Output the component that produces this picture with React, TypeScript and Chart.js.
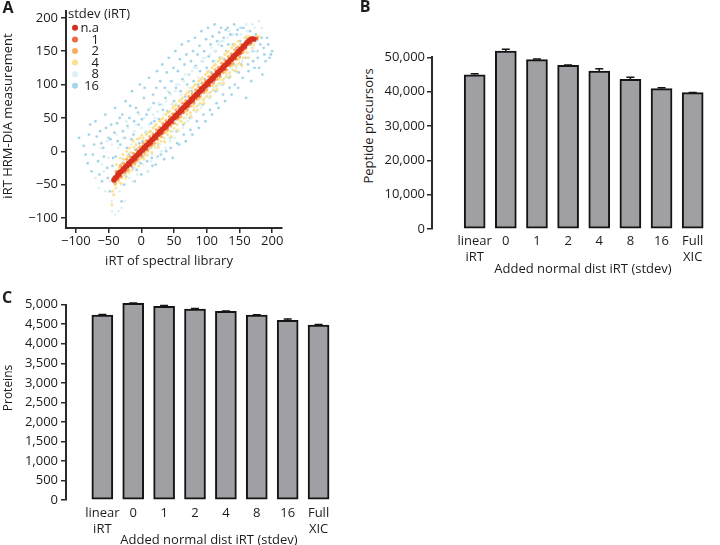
import React, { useEffect, useRef } from "react";
import { Chart, registerables } from "chart.js";

Chart.register(...registerables);

const FONT = "'Open Sans', Lato, sans-serif";
const TEXT = "#1c1c1c";
const AXIS = "#2a2a2a";
Chart.defaults.font.family = FONT;

// ---------- Panel A data ----------
const stdevLabels = ["n.a", "1", "2", "4", "8", "16"];
const stdevColors = ["#d7301f", "#f26841", "#fbae63", "#fde292", "#def1f6", "#a7d5e8"];
const stdevRadii = [2.6, 2.0, 1.6, 1.5, 1.4, 1.4];
const axisTicksA = [-100, -50, 0, 50, 100, 150, 200];

const ptsNA = [[-42,-43],[-40,-40],[-38,-39],[-36,-35],[-34,-34],[-32,-31],[-30,-30],[-28,-27],[-26,-26],[-24,-23],[-22,-22],[-20,-19],[-18,-18],[-16,-15],[-14,-14],[-12,-11],[-10,-10],[-8,-7],[-6,-6],[-4,-3],[-2,-2],[0,1],[2,2],[4,5],[6,6],[8,9],[10,10],[12,13],[14,14],[16,17],[18,18],[20,21],[22,22],[24,25],[26,26],[28,29],[30,30],[32,33],[34,34],[36,37],[38,38],[40,41],[42,42],[44,45],[46,46],[48,49],[50,50],[52,53],[54,54],[56,57],[58,58],[60,61],[62,62],[64,65],[66,66],[68,69],[70,70],[72,73],[74,74],[76,77],[78,78],[80,81],[82,82],[84,85],[86,86],[88,89],[90,90],[92,93],[94,94],[96,97],[98,98],[100,101],[102,102],[104,105],[106,106],[108,109],[110,110],[112,113],[114,114],[116,117],[118,118],[120,121],[122,122],[124,125],[126,126],[128,129],[130,130],[132,133],[134,134],[136,137],[138,138],[140,141],[142,142],[144,145],[146,146],[148,149],[150,150],[152,153],[154,154],[156,157],[158,158],[160,161],[162,163],[164,165],[166,167],[168,168],[172,168]];

const pts1 = [[-40,-44],[-36,-32],[-33,-37],[-28,-25],[-25,-29],[-20,-17],[-17,-21],[-12,-9],[-9,-13],[-4,-1],[-1,-5],[4,7],[7,3],[12,15],[15,11],[20,23],[23,19],[28,31],[31,27],[36,39],[39,35],[44,47],[47,43],[52,55],[55,51],[60,63],[63,59],[68,71],[71,67],[76,79],[79,75],[84,87],[87,83],[92,95],[95,91],[100,103],[103,99],[108,111],[111,107],[116,119],[119,115],[124,127],[127,123],[132,135],[135,131],[140,143],[143,139],[148,151],[151,147],[156,159],[159,155],[164,166],[167,163],[170,170],[176,169]];

const pts2 = [[-40,-48],[-38,-30],[-35,-42],[-32,-22],[-30,-38],[-27,-18],[-25,-32],[-22,-12],[-20,-28],[-17,-8],[-15,-22],[-12,-3],[-10,-18],[-7,2],[-5,-12],[-2,6],[0,-8],[3,12],[5,-2],[8,16],[10,2],[13,22],[15,8],[18,26],[20,12],[23,32],[25,18],[28,36],[30,22],[33,42],[35,28],[38,46],[40,32],[43,52],[45,38],[48,56],[50,42],[53,62],[55,48],[58,66],[60,52],[63,72],[65,58],[68,76],[70,62],[73,82],[75,68],[78,86],[80,72],[83,92],[85,78],[88,96],[90,82],[93,102],[95,88],[98,106],[100,92],[103,112],[105,98],[108,116],[110,102],[113,122],[115,108],[118,126],[120,112],[123,132],[125,118],[128,136],[130,122],[133,142],[135,128],[138,146],[140,132],[143,152],[145,138],[148,156],[150,142],[153,160],[155,148],[160,165],[165,160],[170,169],[175,169]];

const pts4 = [[-45,-80],[-42,-65],[-40,-50],[-38,-20],[-35,-45],[-32,-10],[-30,-40],[-28,-5],[-25,-35],[-22,0],[-20,-25],[-18,5],[-15,-20],[-12,15],[-10,-20],[-8,10],[-5,-15],[-2,20],[0,-10],[3,20],[5,-5],[8,25],[10,0],[13,30],[15,5],[18,35],[20,8],[23,40],[25,12],[28,45],[30,15],[33,50],[35,20],[38,55],[40,25],[43,60],[45,30],[48,65],[50,35],[53,70],[55,40],[58,75],[60,45],[63,80],[65,50],[68,85],[70,55],[73,90],[75,58],[78,95],[80,62],[83,100],[85,68],[88,105],[90,72],[93,110],[95,78],[98,115],[100,82],[103,120],[105,88],[108,125],[110,92],[113,130],[115,98],[118,135],[120,102],[123,140],[125,108],[128,145],[130,112],[133,150],[135,118],[138,155],[140,122],[143,160],[145,128],[148,165],[150,132],[155,140],[158,170],[162,148],[165,172],[170,155],[175,170],[180,172],
  [-44,-60],[-41,-38],[-39,-55],[-37,-30],[-34,-25],[-31,-48],[-29,-18],[-26,-12],[-24,-40],[-21,-8],[-19,-32],[-16,-2],[-14,-28],[-11,6],[-9,-4],[-6,18],[-4,-22],[-1,8],[1,24],[4,-12],[6,14],[9,-6],[11,28],[14,20],[16,-2],[19,14],[21,38],[24,28],[26,6],[29,22],[31,48],[34,40],[36,14],[39,30],[41,58],[44,48],[46,22],[49,42],[51,68],[54,58],[56,32],[59,50],[61,78],[64,70],[66,42],[69,60],[71,88],[74,80],[76,52],[79,68],[81,98],[84,90],[86,62],[89,78],[91,108],[94,100],[96,72],[99,88],[101,118],[104,110],[106,82],[109,98],[111,128],[114,120],[116,92],[119,108],[121,138],[124,130],[126,102],[129,118],[131,148],[134,140],[136,112],[139,128],[141,158],[144,150],[146,120],[149,138],[152,160],[154,128],[157,150],[160,172],[163,140],[167,165],[172,160],[177,172]];

const pts8 = [[-70,-40],[-60,-20],[-55,-60],[-50,-10],[-45,-75],[-45,10],[-40,-30],[-35,5],[-30,-50],[-28,20],[-25,-20],[-20,35],[-18,-40],[-15,10],[-10,-25],[-8,40],[-5,5],[0,35],[3,-20],[5,50],[10,-5],[12,40],[15,-15],[18,55],[22,5],[25,60],[28,10],[32,70],[35,15],[38,75],[42,20],[45,85],[48,30],[52,90],[55,40],[58,100],[62,45],[65,105],[68,50],[72,115],[75,55],[78,120],[82,65],[85,125],[88,70],[92,135],[95,75],[98,140],[102,85],[105,145],[108,90],[112,150],[115,95],[118,160],[122,100],[125,165],[128,110],[132,170],[135,115],[140,175],[145,125],[150,185],[155,135],[160,190],[165,140],[170,190],[175,150],[180,195],[-40,-95],[-30,-85],
  [-65,-55],[-62,5],[-57,-30],[-52,15],[-48,-45],[-42,-65],[-38,25],[-33,-60],[-27,-35],[-23,45],[-19,-15],[-13,-45],[-11,30],[-6,-35],[-3,55],[2,-5],[7,30],[9,-30],[14,65],[17,-5],[21,50],[24,-10],[27,72],[31,0],[34,55],[37,5],[41,90],[44,15],[47,70],[51,20],[54,100],[57,30],[61,85],[64,35],[67,115],[71,45],[74,95],[77,50],[81,125],[84,60],[87,110],[91,65],[94,140],[97,80],[101,120],[104,80],[107,155],[111,95],[114,135],[117,100],[121,165],[124,105],[127,145],[131,115],[134,180],[137,125],[142,160],[147,130],[152,175],[157,140],[162,180],[168,150],[173,185],[178,165],[184,185],[-35,-90],[-25,-75],[-45,-90]];

const pts16 = [[-95,20],[-85,-5],[-80,25],[-76,-30],[-72,10],[-70,45],[-66,-15],[-63,30],[-60,-45],[-58,5],[-55,55],[-52,-25],[-50,20],[-48,-60],[-46,40],[-43,-10],[-40,65],[-38,-40],[-36,15],[-33,50],[-31,-20],[-30,-75],[-28,30],[-26,-50],[-24,75],[-22,5],[-20,-30],[-18,50],[-16,-10],[-14,90],[-12,25],[-10,-45],[-8,65],[-6,-15],[-4,40],[-2,100],[0,-35],[2,15],[4,80],[6,-5],[8,55],[10,-30],[12,110],[14,30],[16,-10],[18,85],[20,45],[22,-20],[24,120],[26,10],[28,70],[30,-5],[32,130],[34,35],[36,95],[38,0],[40,60],[42,140],[44,20],[46,105],[48,-10],[50,75],[52,150],[54,30],[56,120],[58,10],[60,90],[62,160],[64,40],[66,130],[68,15],[70,100],[72,165],[74,50],[76,135],[78,25],[80,105],[82,170],[84,60],[86,145],[88,35],[90,120],[92,180],[94,70],[96,150],[98,45],[100,125],[102,185],[104,80],[106,160],[108,55],[110,135],[112,190],[114,90],[116,165],[118,65],[120,140],[122,185],[124,100],[126,170],[128,75],[130,150],[132,185],[134,110],[136,175],[138,85],[140,160],[142,190],[144,120],[146,175],[148,95],[150,140],[152,185],[155,110],[158,160],[160,80],[163,130],[166,180],[168,105],[170,150],[173,125],[175,175],[178,140],[182,160],[185,115],[188,145],[192,170],[196,140],[200,150],
  [-88,8],[-82,-18],[-78,40],[-74,-5],[-68,22],[-64,-35],[-61,12],[-57,-8],[-54,35],[-51,-40],[-47,18],[-44,-22],[-41,28],[-39,-8],[-37,42],[-34,-30],[-32,10],[-29,55],[-27,-12],[-25,20],[-23,-38],[-21,38],[-19,-5],[-17,68],[-15,18],[-13,-25],[-11,45],[-9,2],[-7,-28],[-5,58],[-3,12],[-1,-18],[1,48],[3,-8],[5,95],[7,28],[9,-15],[11,62],[13,5],[15,42],[17,-22],[19,72],[21,18],[23,95],[25,-8],[27,48],[29,105],[31,22],[33,62],[35,-12],[37,80],[39,118],[41,38],[43,88],[45,5],[47,70],[49,125],[51,42],[53,95],[55,12],[57,68],[59,138],[61,55],[63,108],[65,25],[67,82],[69,145],[71,62],[73,115],[75,32],[77,90],[79,150],[81,72],[83,128],[85,45],[87,100],[89,158],[91,85],[93,135],[95,55],[97,108],[99,168],[101,95],[103,142],[105,62],[107,118],[109,172],[111,105],[113,150],[115,72],[117,125],[119,178],[121,112],[123,158],[125,85],[127,138],[129,182],[131,122],[133,160],[135,95],[137,145],[139,175],[141,130],[143,100],[145,155],[147,182],[149,118],[151,165],[153,130],[156,185],[159,140],[161,170],[164,120],[167,160],[171,135],[174,165],[177,150],[180,125],[184,170],[187,155],[190,135],[194,160],[198,145]];

const stdevPoints = [ptsNA, pts1, pts2, pts4, pts8, pts16];

// ---------- Panels B / C data ----------
const categories: (string | string[])[] = [["linear", "iRT"], "0", "1", "2", "4", "8", "16", ["Full", "XIC"]];
const precursors = [44930, 51830, 49300, 47670, 46010, 43590, 40860, 39690];
const precursorsErr = [250, 500, 200, 60, 650, 580, 250, 40];
const precursorTicks = [0, 10000, 20000, 30000, 40000, 50000];
const proteins = [4736, 5036, 4959, 4890, 4831, 4736, 4600, 4480];
const proteinsErr = [12, 8, 20, 10, 6, 6, 35, 15];
const proteinTicks = [0, 500, 1000, 1500, 2000, 2500, 3000, 3500, 4000, 4500, 5000];

const BAR_FILL = "#a0a0a4";
const BAR_EDGE = "#141414";

const fmt = (v: number) => v.toLocaleString("en-US");
const signed = (v: number) => (v < 0 ? "\u2212" + Math.abs(v) : String(v));

function axisStyle(tickLength: number) {
  return {
    grid: { display: true, drawOnChartArea: false, drawTicks: true, tickLength, color: AXIS, lineWidth: 1.5 },
    border: { display: true, color: AXIS, width: 2 },
  };
}

const legendPluginA = {
  id: "legendA",
  afterDraw(chart: any) {
    const { ctx, chartArea } = chart;
    ctx.save();
    ctx.font = `13px ${FONT}`;
    ctx.textBaseline = "middle";
    ctx.fillStyle = TEXT;
    ctx.textAlign = "left";
    ctx.fillText("stdev (iRT)", chartArea.left + 2, chartArea.top + 3);
    chart.data.datasets.forEach((ds: any, i: number) => {
      const y = chartArea.top + 17 + i * 11.6;
      ctx.beginPath();
      ctx.arc(chartArea.left + 9, y, 3, 0, Math.PI * 2);
      ctx.fillStyle = ds.backgroundColor;
      ctx.fill();
      ctx.fillStyle = TEXT;
      ctx.textAlign = "right";
      ctx.fillText(ds.label, chartArea.left + 33, y + 0.5);
    });
    ctx.restore();
  },
};

function errorBarPlugin(errs: number[]) {
  return {
    id: "errorBars",
    afterDatasetsDraw(chart: any) {
      const { ctx } = chart;
      const ys = chart.scales.y;
      const meta = chart.getDatasetMeta(0);
      const data = chart.data.datasets[0].data;
      ctx.save();
      ctx.strokeStyle = BAR_EDGE;
      ctx.lineWidth = 1.5;
      meta.data.forEach((bar: any, i: number) => {
        const v = data[i].y;
        const y0 = ys.getPixelForValue(v);
        const y1 = ys.getPixelForValue(v + errs[i]);
        ctx.beginPath();
        ctx.moveTo(bar.x, y0);
        ctx.lineTo(bar.x, y1);
        ctx.moveTo(bar.x - 4, y1);
        ctx.lineTo(bar.x + 4, y1);
        ctx.stroke();
      });
      ctx.restore();
    },
  };
}

function makeScatter(ctx: CanvasRenderingContext2D) {
  return new Chart(ctx, {
    type: "scatter",
    data: {
      datasets: stdevPoints.map((pts, i) => ({
        label: stdevLabels[i],
        data: pts.map(([x, y]) => ({ x, y })),
        backgroundColor: stdevColors[i],
        borderWidth: 0,
        pointRadius: stdevRadii[i],
        pointHoverRadius: stdevRadii[i],
      })),
    },
    options: {
      animation: false,
      responsive: false,
      events: [],
      layout: { padding: { top: 5, right: 10, left: 0, bottom: 0 } },
      plugins: { legend: { display: false }, tooltip: { enabled: false } },
      scales: {
        x: {
          type: "linear",
          min: -115,
          max: 215,
          afterBuildTicks: (ax: any) => { ax.ticks = axisTicksA.map((v) => ({ value: v })); },
          afterFit: (s: any) => { s.height = 47; },
          ...axisStyle(5),
          ticks: { font: { size: 13 }, color: TEXT, padding: 0, maxRotation: 0, autoSkip: false, callback: (v: number) => signed(v) },
        },
        y: {
          type: "linear",
          min: -115,
          max: 210.5,
          afterBuildTicks: (ax: any) => { ax.ticks = axisTicksA.map((v) => ({ value: v })); },
          afterFit: (s: any) => { s.width = 66; },
          ...axisStyle(5),
          ticks: { font: { size: 13 }, color: TEXT, padding: 3, callback: (v: number) => signed(v) },
        },
      },
    },
    plugins: [legendPluginA],
  } as any);
}

function makeBars(
  ctx: CanvasRenderingContext2D,
  values: number[],
  errs: number[],
  yTicks: number[],
  cfg: { padTop: number; yWidth: number; xHeight: number; xMin: number; xMax: number; yMax: number; xPad: number; yPad: number }
) {
  return new Chart(ctx, {
    type: "bar",
    data: {
      datasets: [
        {
          data: values.map((v, i) => ({ x: i, y: v })),
          backgroundColor: BAR_FILL,
          borderColor: BAR_EDGE,
          borderWidth: 2,
          borderSkipped: false,
          barThickness: 21,
          clip: false,
        },
      ],
    },
    options: {
      animation: false,
      responsive: false,
      events: [],
      layout: { padding: { top: cfg.padTop, right: 0, left: 0, bottom: 0 } },
      plugins: { legend: { display: false }, tooltip: { enabled: false } },
      scales: {
        x: {
          type: "linear",
          min: cfg.xMin,
          max: cfg.xMax,
          afterBuildTicks: (ax: any) => { ax.ticks = categories.map((_, i) => ({ value: i })); },
          afterFit: (s: any) => { s.height = cfg.xHeight; },
          grid: { display: false, drawTicks: false },
          border: { display: false },
          ticks: {
            font: { size: 13, lineHeight: 1.25 },
            color: TEXT,
            padding: cfg.xPad,
            maxRotation: 0,
            autoSkip: false,
            callback: (v: number) => categories[v],
          },
        },
        y: {
          type: "linear",
          min: 0,
          max: cfg.yMax,
          afterBuildTicks: (ax: any) => { ax.ticks = yTicks.map((v) => ({ value: v })); },
          afterFit: (s: any) => { s.width = cfg.yWidth; },
          ...axisStyle(5),
          ticks: { font: { size: 13 }, color: TEXT, padding: cfg.yPad, callback: (v: number) => fmt(v) },
        },
      },
    },
    plugins: [errorBarPlugin(errs)],
  } as any);
}

function ChartCanvas(props: { left: number; top: number; width: number; height: number; make: (c: CanvasRenderingContext2D) => Chart }) {
  const ref = useRef<HTMLCanvasElement>(null);
  useEffect(() => {
    const c = props.make(ref.current!.getContext("2d")!);
    return () => c.destroy();
  }, []);
  return (
    <canvas
      ref={ref}
      width={props.width}
      height={props.height}
      style={{ position: "absolute", left: props.left, top: props.top, width: props.width, height: props.height }}
    />
  );
}

function Label(props: { x: number; y: number; text: string; rotate?: boolean; size?: number; bold?: boolean }) {
  return (
    <div
      style={{
        position: "absolute",
        left: props.x,
        top: props.y,
        transform: `translate(-50%, -50%)${props.rotate ? " rotate(-90deg)" : ""}`,
        whiteSpace: "nowrap",
        fontFamily: FONT,
        fontSize: props.size ?? 13,
        fontWeight: props.bold ? 700 : 400,
        color: TEXT,
        lineHeight: 1,
      }}
    >
      {props.text}
    </div>
  );
}

export default function App() {
  return (
    <div style={{ position: "fixed", left: 0, top: 0, width: 720, height: 545, overflow: "hidden", background: "#fff" }}>
      <ChartCanvas left={0} top={0} width={292} height={275} make={makeScatter} />
      <ChartCanvas
        left={380}
        top={0}
        width={350}
        height={275}
        make={(c) =>
          makeBars(c, precursors, precursorsErr, precursorTicks, {
            padTop: 57.3, yWidth: 52, xHeight: 46, xMin: -0.772, xMax: 7.6, yMax: 50000, xPad: 4, yPad: 2,
          })
        }
      />
      <ChartCanvas
        left={0}
        top={285}
        width={370}
        height={260}
        make={(c) =>
          makeBars(c, proteins, proteinsErr, proteinTicks, {
            padTop: 19.7, yWidth: 66, xHeight: 45, xMin: -0.561, xMax: 8.05, yMax: 5000, xPad: 5, yPad: 3,
          })
        }
      />
      <Label x={8} y={7} text="A" size={16} bold />
      <Label x={365} y={6} text="B" size={16} bold />
      <Label x={7} y={297} text="C" size={16} bold />
      <Label x={169} y={260} text="iRT of spectral library" />
      <Label x={7} y={116} text="iRT HRM-DIA measurement" rotate />
      <Label x={583} y={268} text="Added normal dist iRT (stdev)" />
      <Label x={368} y={126} text="Peptide precursors" rotate />
      <Label x={209} y={539} text="Added normal dist iRT (stdev)" />
      <Label x={8} y={388} text="Proteins" rotate size={12} />
    </div>
  );
}
